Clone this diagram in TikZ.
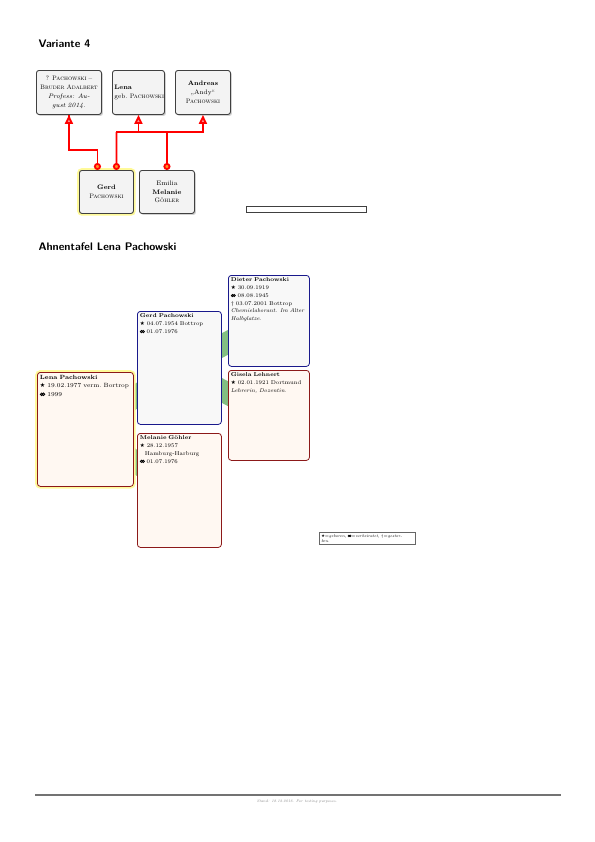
\documentclass[tikz,border=0pt]{standalone}
\usepackage{fontspec}
\newfontfamily\symfont{DejaVu Sans}
\usepackage{tikz}
\usetikzlibrary{arrows.meta,positioning,calc,shadows,backgrounds}
\definecolor{varbg}{RGB}{243,243,243}
\definecolor{malebg}{RGB}{248,248,248}
\definecolor{femalebg}{RGB}{255,248,242}
\definecolor{maleframe}{RGB}{25,25,140}
\definecolor{femaleframe}{RGB}{140,25,25}
\definecolor{edgegreen}{RGB}{130,190,130}
\newcommand{\born}{{\symfont\char"2605}}
\newcommand{\marr}{\tikz[baseline=0pt]{\draw[line width=0.3ex] (0.55ex,0.75ex) circle[radius=0.5ex] (1.3ex,0.75ex) circle[radius=0.5ex];}}
\newcommand{\died}{\dag}

\begin{document}
\begin{tikzpicture}[x=1bp,y=-1bp,
  varbox/.style={draw=black!75, line width=0.9bp, fill=varbg, rounded corners=2.5bp,
    drop shadow={shadow xshift=1.5bp, shadow yshift=-1.5bp, fill=black!35},
    anchor=north west, align=center, inner xsep=2bp, inner ysep=2bp,
    minimum height=44bp, font=\fontsize{6.5}{8.8}\selectfont},
  glow/.style={preaction={draw=yellow!40, line width=4.5bp}},
  redline/.style={red, line width=1.8bp},
  famcircle/.style={redline, {Circle[fill=orange!85, length=7bp, width=7bp]}-},
  famarrow/.style={redline, -{Triangle[fill=red!45, length=9bp, width=8bp]}},
  ahnbox/.style={rounded corners=3bp, line width=0.8bp, anchor=north west,
    inner sep=2.5bp, align=left, font=\fontsize{5.6}{7.8}\selectfont},
  male/.style={ahnbox, draw=maleframe, fill=malebg},
  female/.style={ahnbox, draw=femaleframe, fill=femalebg},
  famedge/.style={edgegreen, line width=22bp},
  heading/.style={anchor=base west, font=\sffamily\bfseries\fontsize{11}{13}\selectfont}]
  \useasboundingbox (0,0) rectangle (595,842);

  % Variante 4
  \node[heading] (headvar) at (35,47) {Variante 4};
  \node[varbox, text width=61bp] (bruder) at (36,70)
    {? \textsc{Pachowski} --\\ \textsc{Bruder Adalbert}\\ \textit{Profess: Au-}\\ \textit{gust 2014.}};
  \node[varbox, text width=48bp, align=left] (lenav) at (112,70)
    {\textbf{Lena}\\ \mbox{geb.~\textsc{Pachowski}}};
  \node[varbox, text width=51bp] (andreas) at (175,70)
    {\textbf{Andreas}\\ „Andy``\\ \textsc{Pachowski}};
  \node[varbox, glow, text width=50bp, minimum height=43bp] (gerdv) at (79,170)
    {\textbf{Gerd}\\ \textsc{Pachowski}};
  \node[varbox, text width=51bp, minimum height=43bp] (emilia) at (139,170)
    {Emilia\\ \textbf{Melanie}\\ \textsc{Göhler}};
  \node[draw=black!75, line width=0.8bp, fill=white, anchor=north west,
    minimum width=120bp, minimum height=6bp, inner sep=0pt,
    drop shadow={shadow xshift=1bp, shadow yshift=-1bp, fill=black!40}] (emptybox) at (246,206) {};

  \coordinate (famtop) at ($(gerdv.north)+(10,-38)$);
  \draw[famcircle] ([xshift=-9bp]gerdv.north) -- ++(0,-20) -| (bruder.south);
  \draw[famarrow] ([xshift=-9bp]gerdv.north) ++(0,-20) -| (bruder.south);
  \draw[famcircle] ([xshift=10bp]gerdv.north) -- (famtop);
  \draw[famarrow] (famtop) -| (andreas.south);
  \draw[famarrow] (famtop -| lenav.south) -- (lenav.south);
  \draw[famcircle] (emilia.north) -- (emilia.north |- famtop);

  % Ahnentafel
  \node[heading] (headahn) at (35,250) {Ahnentafel Lena Pachowski};
  \node[female, glow, text width=91bp, font=\fontsize{6.1}{8.6}\selectfont] (lena) at (37,372)
    {\parbox[t][109bp][t]{\linewidth}{\raggedright\textbf{Lena Pachowski}\\
      \mbox{\born~19.02.1977 verm.~Bortrop}\\ \marr~1999}};
  \node[male, text width=79bp] (gerd) at (137,311)
    {\parbox[t][108bp][t]{\linewidth}{\raggedright\textbf{Gerd Pachowski}\\
      \born~04.07.1954 Bottrop\\ \marr~01.07.1976}};
  \node[female, text width=79bp] (melanie) at (137,433)
    {\parbox[t][109bp][t]{\linewidth}{\raggedright\textbf{Melanie Göhler}\\
      \born~28.12.1957\\ \hspace*{5bp}Hamburg-Harburg\\ \marr~01.07.1976}};
  \node[male, text width=76bp] (dieter) at (228,275)
    {\parbox[t][86bp][t]{\linewidth}{\raggedright\textbf{Dieter Pachowski}\\
      \born~30.09.1919\\ \marr~08.08.1945\\ \died~03.07.2001 Bottrop\\
      \textit{Chemielaborant. Im Alter Halbglatze.}}};
  \node[female, text width=76bp] (gisela) at (228,370)
    {\parbox[t][85bp][t]{\linewidth}{\raggedright\textbf{Gisela Lehnert}\\
      \born~02.01.1921 Dortmund\\ \textit{Lehrerin, Dozentin.}}};
  \begin{scope}[on background layer]
    \draw[famedge] (lena.center) -- (gerd.center);
    \draw[famedge] (lena.center) -- (melanie.center);
    \draw[famedge] (gerd.center) -- (dieter.center);
    \draw[famedge] (gerd.center) -- (gisela.center);
  \end{scope}
  \node[draw=black!60, line width=0.5bp, fill=white, anchor=north west, text width=92bp,
    inner sep=2bp, align=left, font=\fontsize{4.1}{5}\selectfont,
    drop shadow={shadow xshift=0.8bp, shadow yshift=-0.8bp, fill=black!30}] (legend) at (319,532)
    {\born=\textit{geboren}, \marr=\textit{verheiratet}, \died=\textit{gestor-\\ben.}};

  % footer
  \coordinate (footl) at (35,795);
  \coordinate (footr) at (561,795);
  \draw[black!55, line width=1.3bp] (footl) -- (footr);
  \node[text=black!50, font=\fontsize{3.8}{4.5}\selectfont\itshape] (footer) at (297,802)
    {Stand: 18.12.2016. For testing purposes.};
\end{tikzpicture}
\end{document}
